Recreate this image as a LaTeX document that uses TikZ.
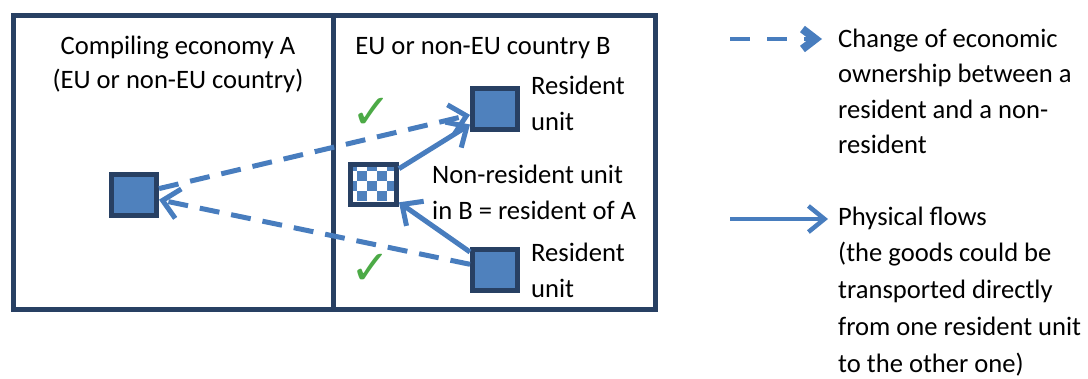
\documentclass[tikz,border=0pt]{standalone}
\usepackage{fontspec}
\setmainfont{Carlito}
\newfontfamily\symfont{DejaVu Sans}
\usetikzlibrary{arrows.meta,calc}
\definecolor{navy}{RGB}{40,64,99}
\definecolor{ublue}{RGB}{79,129,189}
\definecolor{ablue}{RGB}{72,125,190}
\definecolor{okgreen}{RGB}{76,170,70}
\begin{document}
\begin{tikzpicture}[x=1pt,y=-1pt,
  region/.style={draw=navy, line width=5pt, inner sep=0pt},
  unit/.style={draw=navy, fill=ublue, line width=5pt, inner sep=0pt, minimum width=45pt, minimum height=41pt},
  chk/.style={draw=navy, fill=white, line width=5pt, inner sep=0pt, minimum width=46pt, minimum height=40pt,
    path picture={
      \foreach \i in {0,...,4}{\foreach \j in {0,...,3}{
        \pgfmathtruncatemacro\odd{mod(\i+\j,2)}
        \ifnum\odd=0
          \fill[ublue] ($(path picture bounding box.north west)+(-4+\i*10,-3.5+\j*10)$) rectangle ++(10,10);
        \fi}}
    }},
  txt/.style={inner sep=0pt, align=left, font=\fontsize{26.6}{36}\selectfont},
  tick/.style={inner sep=0pt, text=okgreen, font=\symfont\fontsize{48}{48}\selectfont},
  own/.style={draw=ablue, line width=5pt, dash pattern=on 20pt off 12pt, -{Straight Barb[length=16pt,width=30pt]}},
  phys/.style={draw=ablue, line width=5pt, -{Straight Barb[length=16pt,width=30pt]}}
]
\useasboundingbox (0,0) rectangle (1088,378);

% regions
\node[region, minimum width=319.5pt, minimum height=294pt] (boxA) at (173.25,162) {};
\node[region, minimum width=322pt, minimum height=294pt] (boxB) at (494,162) {};

% titles (base anchor = baseline of last line)
\node[txt, align=center, anchor=base, font=\fontsize{26.6}{34}\selectfont] (titleA) at (178,88) {Compiling economy A\\(EU or non-EU country)};
\node[txt, anchor=base] (titleB) at (483,54) {EU or non-EU country B};

% units
\node[unit] (A) at (134,194.5) {};
\node[unit] (R1) at (495,109) {};
\node[unit] (R2) at (495,269.5) {};
\node[chk] (C) at (373.5,184.5) {};

% labels
\node[txt, anchor=base west] (lR1) at (531,130) {Resident\\unit};
\node[txt, anchor=base west] (lC) at (432,219) {Non-resident unit\\in B = resident of A};
\node[txt, anchor=base west] (lR2) at (531,297) {Resident\\unit};

% ticks
\node[tick] (t1) at (372,113) {✓};
\node[tick] (t2) at (371,269) {✓};

% flows
\draw[own] (A) -- (R1);
\draw[own] (R2) -- (A);
\draw[phys] (C) -- (R1);
\draw[phys] (R2) -- (C);

% legend
\coordinate (l1s) at (730,39);
\coordinate (l1e) at (822,39);
\coordinate (l2s) at (730,219);
\coordinate (l2e) at (828,219);
\draw[own, line width=4.5pt, dash pattern=on 20pt off 17pt, -{Straight Barb[length=13pt,width=20pt,line width=8pt]}] (l1s) -- (l1e);
\draw[phys, line width=4.5pt, -{Straight Barb[length=16pt,width=26pt]}] (l2s) -- (l2e);
\node[txt, anchor=base west, font=\fontsize{26.6}{35.5}\selectfont] (leg1) at (838,153.5) {Change of economic\\ownership between a\\resident and a non-\\resident};
\node[txt, anchor=base west, font=\fontsize{26.6}{36.7}\selectfont] (leg2) at (838,372) {Physical flows\\(the goods could be\\transported directly\\from one resident unit\\to the other one)};
\end{tikzpicture}
\end{document}
